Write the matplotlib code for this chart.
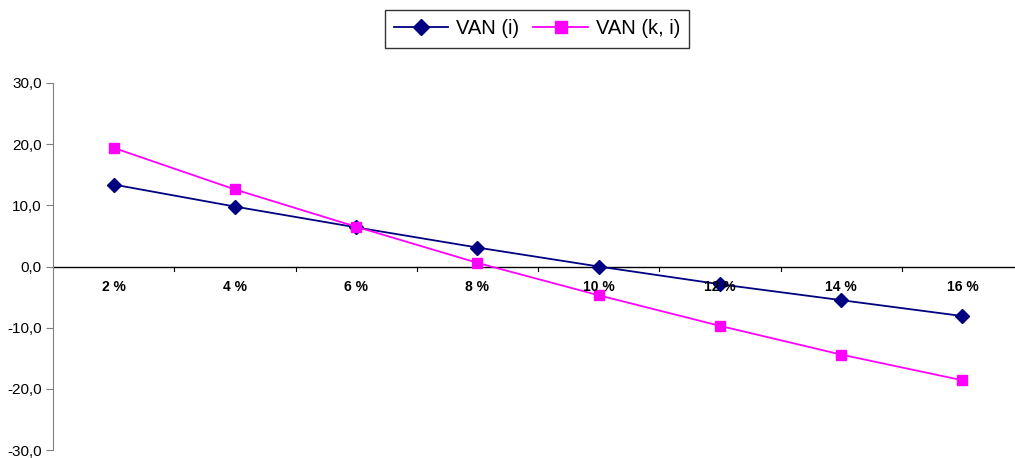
import matplotlib
matplotlib.use("Agg")
import matplotlib.pyplot as plt
from matplotlib.ticker import FuncFormatter

plt.rcParams["font.family"] = ["Liberation Sans", "DejaVu Sans"]

# data
rates = ["2 %", "4 %", "6 %", "8 %", "10 %", "12 %", "14 %", "16 %"]
van_i = [13.4, 9.8, 6.4, 3.1, 0.0, -2.9, -5.5, -8.1]
van_ki = [19.4, 12.6, 6.5, 0.6, -4.7, -9.7, -14.4, -18.6]

fig = plt.figure(figsize=(10.15, 4.58), dpi=100)
ax = fig.add_axes([53 / 1015, 8 / 458, 970 / 1015, 367 / 458])

x = range(len(rates))
ax.plot(x, van_i, color="#000080", marker="D", markersize=7, linewidth=1.3,
        label="VAN (i)")
ax.plot(x, van_ki, color="#FF00FF", marker="s", markersize=7.5, linewidth=1.3,
        label="VAN (k, i)")

ax.set_xlim(-0.5, len(rates) - 0.5)
ax.set_ylim(-30, 30)

# y axis
ax.set_yticks([-30, -20, -10, 0, 10, 20, 30])
ax.yaxis.set_major_formatter(FuncFormatter(lambda v, p: f"{v:.1f}".replace(".", ",")))
ax.tick_params(axis="y", direction="out", length=5, labelsize=11, color="#808080", pad=3)

# x axis drawn on the zero line
for s in ["top", "right", "bottom"]:
    ax.spines[s].set_visible(False)
ax.spines["left"].set_color("#808080")
ax.axhline(0, color="black", linewidth=1.0, zorder=1)
ax.set_xticks([])
for i, r in enumerate(rates):
    ax.annotate(r, (i, 0), xytext=(0, -15), textcoords="offset points",
                ha="center", va="center", fontsize=10, fontweight="bold")
    ax.plot([i + 0.5, i + 0.5], [0, -0.7], color="black", linewidth=0.8, zorder=1)

leg = fig.legend(loc="center", bbox_to_anchor=(537 / 1015, 1 - 29 / 458), ncol=2,
                 fontsize=14.5, frameon=True, fancybox=False, edgecolor="black",
                 handlelength=2.7, handletextpad=0.4, columnspacing=0.7,
                 borderpad=0.45, markerscale=1.1)
leg.get_frame().set_linewidth(1.0)

fig.savefig("out.png", dpi=100)
